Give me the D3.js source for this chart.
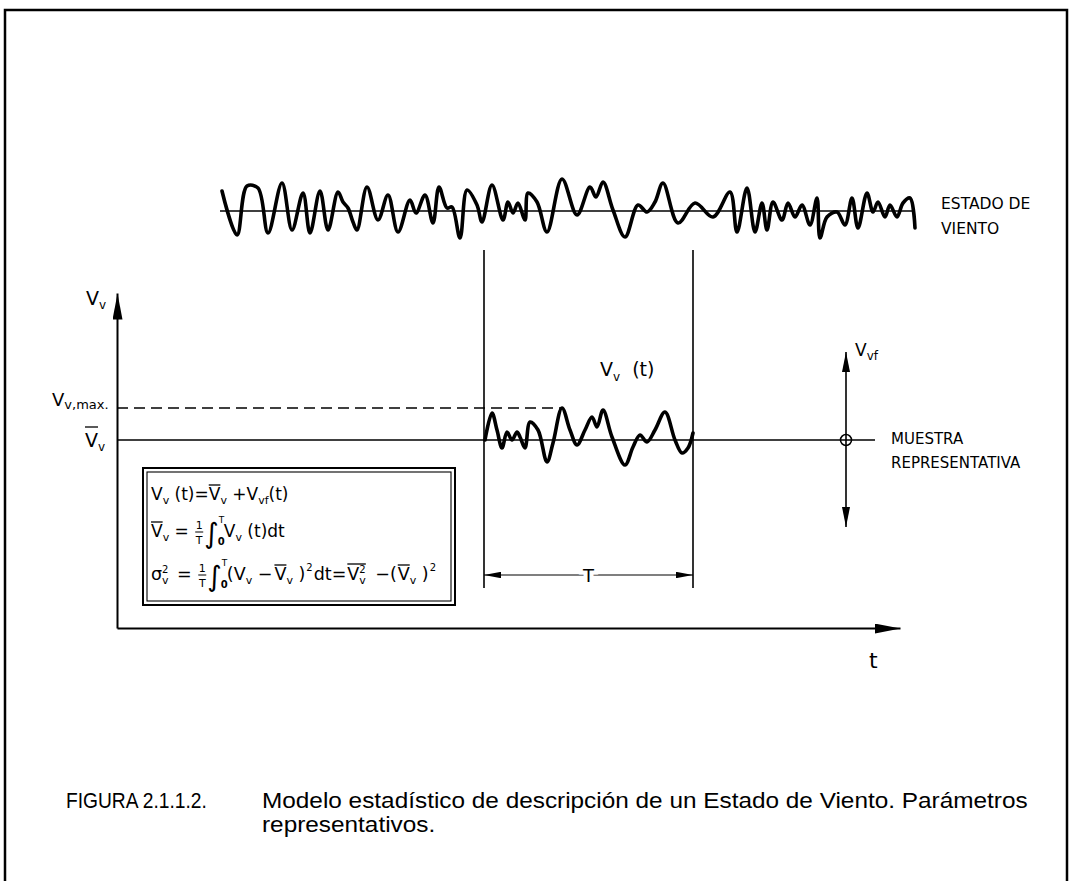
<!DOCTYPE html>
<html>
<head>
<meta charset="utf-8">
<script src="https://cdn.jsdelivr.net/npm/d3@7"></script>
<style>
  body { margin: 0; background: #fff; }
  svg { display: block; font-family: 'DejaVu Sans', sans-serif; }
  text { white-space: pre; }
  .caption { font-family: 'Liberation Sans', Arial, sans-serif; }
</style>
</head>
<body>
<svg width="1072" height="881"></svg>
<script>
// top trace "estado de viento": [t, deviation]
const stateTrace = [
    [0, 20], [15, -24], [25, 25], [36, 23], [46, -22], [60, 28], [70, -19], [81, 18],
    [88, -22], [98, 20], [106, -19], [116, 19], [121, 9], [126, 3], [131, -11], [135, -19],
    [145, 24], [156, -9], [166, 16], [176, -21], [188, 11], [194, -2], [203, 16], [211, -12],
    [217, 24], [225, 3], [230, 4], [238, -27], [245, 21], [255, 6], [260, -11], [270, 26],
    [281, -9], [286, 9], [291, -2], [296, 8], [303, -9], [306, 18], [315, 9], [325, -21],
    [340, 32], [355, -4], [368, 24], [374, 14], [381, 29], [391, 1], [403, -26], [416, 6],
    [425, -1], [433, 9], [441, 28], [456, -12], [473, 8], [491, -6], [508, 19], [515, -21],
    [525, 23], [533, -21], [540, 8], [545, -19], [551, 9], [560, -9], [566, 8], [573, -6],
    [580, 6], [588, -14], [595, 13], [598, -27], [605, -6], [615, -1], [623, -14], [630, 13],
    [636, -17], [645, 18], [651, -1], [656, 9], [663, -6], [668, 6], [675, -6], [681, 8],
    [688, 13], [693, -17]
]

// representative sample Vv(t) inside window T: [t, Vv - mean]
const sampleTrace = [
    [1, 0], [8, 27], [13, 10], [18, -8], [23, 8], [28, 0], [33, 8], [36, 3], [41, -8],
    [46, 18], [54, 10], [63, -22], [69, -3], [78, 32], [86, 10], [93, -5], [101, 10],
    [108, 23], [113, 13], [119, 30], [128, 3], [141, -25], [149, -7], [156, 5], [163, -2],
    [171, 10], [181, 28], [191, 0], [198, -13], [204, -8], [209, 7]
]

const meanV = 188
const windowStart = 367
const windowT = 209
const vvfAt = 729
const vvfRange = [-87, 88]
const meanLineEnd = 758

const captionLabel = 'FIGURA 2.1.1.2.'
const captionLines = [
    'Modelo estadístico de descripción de un Estado de Viento. Parámetros',
    'representativos.'
]
const stateLabel = ['ESTADO DE', 'VIENTO']
const sampleLabel = ['MUESTRA', 'REPRESENTATIVA']

const svg = d3.select('svg')

const x = d3.scaleLinear().domain([0, 783]).range([117, 900])
const y = d3.scaleLinear().domain([0, 335]).range([628, 293])
const xs = d3.scaleLinear().domain([0, 693]).range([222, 915])
const ys = d3.scaleLinear().domain([-30, 30]).range([241, 181])

const defs = svg.append('defs')
const marker = (id, len, half) => defs
    .append('marker')
        .attr('id', id)
        .attr('markerUnits', 'userSpaceOnUse')
        .attr('viewBox', `0 ${-half} ${len} ${half * 2}`)
        .attr('refX', len)
        .attr('refY', 0)
        .attr('markerWidth', len)
        .attr('markerHeight', half * 2)
        .attr('orient', 'auto-start-reverse')
    .append('path')
        .attr('d', `M0,${-half}L${len},0L0,${half}Z`)
        .attr('fill', '#000')
marker('axisArrow', 26, 5)
marker('smallArrow', 20, 4)
marker('dimArrow', 17, 3.2)

// frame
svg.append('path')
    .attr('d', 'M5,881V10H1067V881')
    .attr('fill', 'none')
    .attr('stroke', '#000')
    .attr('stroke-width', 2.5)

// axes
const xAxis = svg.append('g')
    .attr('transform', `translate(0,${y(0)})`)
    .call(d3.axisBottom(x).tickValues([]).tickSizeOuter(0))
xAxis.select('.domain')
    .attr('stroke-width', 2)
    .attr('marker-end', 'url(#axisArrow)')

const yAxis = svg.append('g')
    .attr('transform', `translate(${x(0)},0)`)
    .call(d3.axisLeft(y).tickValues([]).tickSizeOuter(0))
yAxis.select('.domain')
    .attr('stroke-width', 2)
    .attr('marker-end', 'url(#axisArrow)')

// top trace
svg.append('line')
    .attr('x1', xs(0) - 2)
    .attr('x2', xs(693))
    .attr('y1', ys(0))
    .attr('y2', ys(0))
    .attr('stroke', '#000')
    .attr('stroke-width', 1.5)

const waveTop = d3.line()
    .x(d => xs(d[0]))
    .y(d => ys(d[1]))
    .curve(d3.curveCatmullRom.alpha(0.5))

svg.append('path')
    .attr('d', waveTop(stateTrace))
    .attr('fill', 'none')
    .attr('stroke', '#000')
    .attr('stroke-width', 3.6)
    .attr('stroke-linejoin', 'round')
    .attr('stroke-linecap', 'round')

// window limits
const vmax = d3.max(sampleTrace, d => d[1])
const vmaxAt = sampleTrace.find(d => d[1] === vmax)[0]

;[windowStart, windowStart + windowT].forEach(t => {
    svg.append('line')
        .attr('x1', x(t))
        .attr('x2', x(t))
        .attr('y1', 250)
        .attr('y2', 588)
        .attr('stroke', '#000')
        .attr('stroke-width', 1.6)
})

// mean and max lines
svg.append('line')
    .attr('x1', x(0))
    .attr('x2', x(meanLineEnd))
    .attr('y1', y(meanV))
    .attr('y2', y(meanV))
    .attr('stroke', '#000')
    .attr('stroke-width', 1.5)

svg.append('line')
    .attr('x1', x(0))
    .attr('x2', x(windowStart + vmaxAt))
    .attr('y1', y(meanV + vmax))
    .attr('y2', y(meanV + vmax))
    .attr('stroke', '#000')
    .attr('stroke-width', 1.3)
    .attr('stroke-dasharray', '11,6')

// sample trace
const waveSample = d3.line()
    .x(d => x(windowStart + d[0]))
    .y(d => y(meanV + d[1]))
    .curve(d3.curveCatmullRom.alpha(0.5))

svg.append('path')
    .attr('d', waveSample(sampleTrace))
    .attr('fill', 'none')
    .attr('stroke', '#000')
    .attr('stroke-width', 3.6)
    .attr('stroke-linejoin', 'round')
    .attr('stroke-linecap', 'round')

// dimension T
svg.append('line')
    .attr('x1', x(windowStart))
    .attr('x2', x(windowStart + windowT))
    .attr('y1', 575)
    .attr('y2', 575)
    .attr('stroke', '#000')
    .attr('stroke-width', 1.2)
    .attr('marker-start', 'url(#dimArrow)')
    .attr('marker-end', 'url(#dimArrow)')

svg.append('text')
    .attr('x', x(windowStart + windowT / 2))
    .attr('y', 582)
    .attr('text-anchor', 'middle')
    .attr('font-size', 18)
    .attr('stroke', '#fff')
    .attr('stroke-width', 8)
    .attr('paint-order', 'stroke')
    .text('T')

// fluctuation arrow Vvf
svg.append('line')
    .attr('x1', x(vvfAt))
    .attr('x2', x(vvfAt))
    .attr('y1', y(meanV + vvfRange[0]))
    .attr('y2', y(meanV + vvfRange[1]))
    .attr('stroke', '#000')
    .attr('stroke-width', 1.6)
    .attr('marker-start', 'url(#smallArrow)')
    .attr('marker-end', 'url(#smallArrow)')

svg.append('circle')
    .attr('cx', x(vvfAt))
    .attr('cy', y(meanV))
    .attr('r', 5.5)
    .attr('fill', 'none')
    .attr('stroke', '#000')
    .attr('stroke-width', 1.5)

// text with sub/superscripts and overbars
function formula(parent, x0, y0, pieces, base) {
    let cx = x0
    const bars = {}
    pieces.forEach(p => {
        if (p.frac) {
            const w = 8
            parent.append('text')
                .attr('x', cx + w / 2).attr('y', y0 - 8)
                .attr('text-anchor', 'middle').attr('font-size', 11).text('1')
            parent.append('text')
                .attr('x', cx + w / 2).attr('y', y0 + 7)
                .attr('text-anchor', 'middle').attr('font-size', 11).text('T')
            parent.append('line')
                .attr('x1', cx).attr('x2', cx + w)
                .attr('y1', y0 - 5).attr('y2', y0 - 5)
                .attr('stroke', '#000').attr('stroke-width', 1)
            cx += w + 1
            return
        }
        if (p.integral) {
            const t = parent.append('text')
                .attr('x', cx).attr('y', y0 + 6)
                .attr('font-size', 28).text('∫')
            const w = t.node().getComputedTextLength()
            parent.append('text')
                .attr('x', cx + w).attr('y', y0 - 14)
                .attr('font-size', 9).text('T')
            parent.append('text')
                .attr('x', cx + w - 1).attr('y', y0 + 8)
                .attr('font-size', 10).attr('font-weight', 'bold').text('0')
            cx += w + 5
            return
        }
        const t = parent.append('text')
            .attr('x', cx)
            .attr('y', y0 + (p.dy || 0))
            .attr('font-size', p.size || base)
            .text(p.s)
        const w = t.node().getComputedTextLength()
        if (p.bar) {
            const b = bars[p.bar] || (bars[p.bar] = { x1: cx, x2: cx, top: p.barY })
            b.x2 = Math.max(b.x2, cx + w)
        }
        if (!p.stay) cx += w + (p.gap || 0)
    })
    Object.values(bars).forEach(b => {
        parent.append('line')
            .attr('x1', b.x1).attr('x2', b.x2)
            .attr('y1', y0 - b.top).attr('y2', y0 - b.top)
            .attr('stroke', '#000').attr('stroke-width', 1.3)
    })
    return cx
}

const sub = (s, dy = 4, size = 11) => ({ s, dy, size })

// formula box
svg.append('rect')
    .attr('x', 143).attr('y', 468).attr('width', 312).attr('height', 137)
    .attr('fill', '#fff').attr('stroke', '#000').attr('stroke-width', 2)
svg.append('rect')
    .attr('x', 147).attr('y', 472).attr('width', 304).attr('height', 129)
    .attr('fill', 'none').attr('stroke', '#000').attr('stroke-width', 1.1)

const fg = svg.append('g').attr('fill', '#000')
formula(fg, 151, 500, [
    { s: 'V' }, sub('v'), { s: ' (t)=' },
    { s: 'V', bar: 'a', barY: 15 }, sub('v'), { s: ' +V' }, sub('vf'), { s: '(t)' }
], 17)
formula(fg, 151, 537, [
    { s: 'V', bar: 'a', barY: 15 }, sub('v'), { s: ' = ', gap: 1 },
    { frac: true }, { integral: true },
    { s: 'V' }, sub('v'), { s: ' (t)dt' }
], 17)
formula(fg, 151, 580, [
    { s: 'σ' }, { s: 'v', dy: 4, size: 11, stay: true }, { s: '2', dy: -7, size: 10, gap: 3 },
    { s: ' = ', gap: 1 }, { frac: true }, { integral: true },
    { s: '(V' }, sub('v'), { s: ' −', gap: 2 }, { s: 'V', bar: 'a', barY: 15 }, sub('v'),
    { s: ' )', gap: 1 }, { s: '2', dy: -9, size: 10, gap: 1 }, { s: 'dt=', gap: 1 },
    { s: 'V', bar: 'b', barY: 16 }, { s: 'v', dy: 4, size: 11, stay: true, bar: 'b' },
    { s: '2', dy: -7, size: 10, bar: 'b', gap: 4 },
    { s: ' −(', gap: 1 }, { s: 'V', bar: 'c', barY: 15 }, sub('v'), { s: ' )', gap: 1 },
    { s: '2', dy: -9, size: 10 }
], 17.5)

// labels
const lg = svg.append('g').attr('fill', '#000')
formula(lg, 86, 305, [{ s: 'V' }, sub('v', 4, 12)], 19)
formula(lg, 52, 406, [{ s: 'V' }, sub('v,max.', 3, 13)], 18)
formula(lg, 85, 447, [{ s: 'V', bar: 'a', barY: 20 }, sub('v', 4, 12)], 19)
formula(lg, 600, 376, [{ s: 'V' }, sub('v', 5, 12), { s: '  (t)' }], 19)
formula(lg, 855, 356, [{ s: 'V' }, sub('vf', 4, 12)], 17)

svg.append('text')
    .attr('x', 869).attr('y', 668)
    .attr('font-size', 22)
    .text('t')

stateLabel.forEach((s, i) => {
    svg.append('text')
        .attr('x', 941).attr('y', 209 + i * 25)
        .attr('font-size', 15.5)
        .text(s)
})
sampleLabel.forEach((s, i) => {
    svg.append('text')
        .attr('x', 891).attr('y', 444 + i * 24)
        .attr('font-size', 15)
        .text(s)
})

// caption; the paragraph keeps one horizontal scale, the label is narrower
const captionText = (s, x0, y0) => svg.append('text')
    .attr('class', 'caption')
    .attr('font-size', 22.5)
    .attr('transform', `translate(${x0},${y0})`)
    .text(s)

const figLabel = captionText(captionLabel, 66, 808)
figLabel.attr('transform', `translate(66,808) scale(${141 / figLabel.node().getComputedTextLength()},1)`)

const capRows = captionLines.map((s, i) => captionText(s, 262, 808 + i * 24))
const capScale = 766 / capRows[0].node().getComputedTextLength()
capRows.forEach((t, i) => t.attr('transform', `translate(262,${808 + i * 24}) scale(${capScale},1)`))
</script>
</body>
</html>
